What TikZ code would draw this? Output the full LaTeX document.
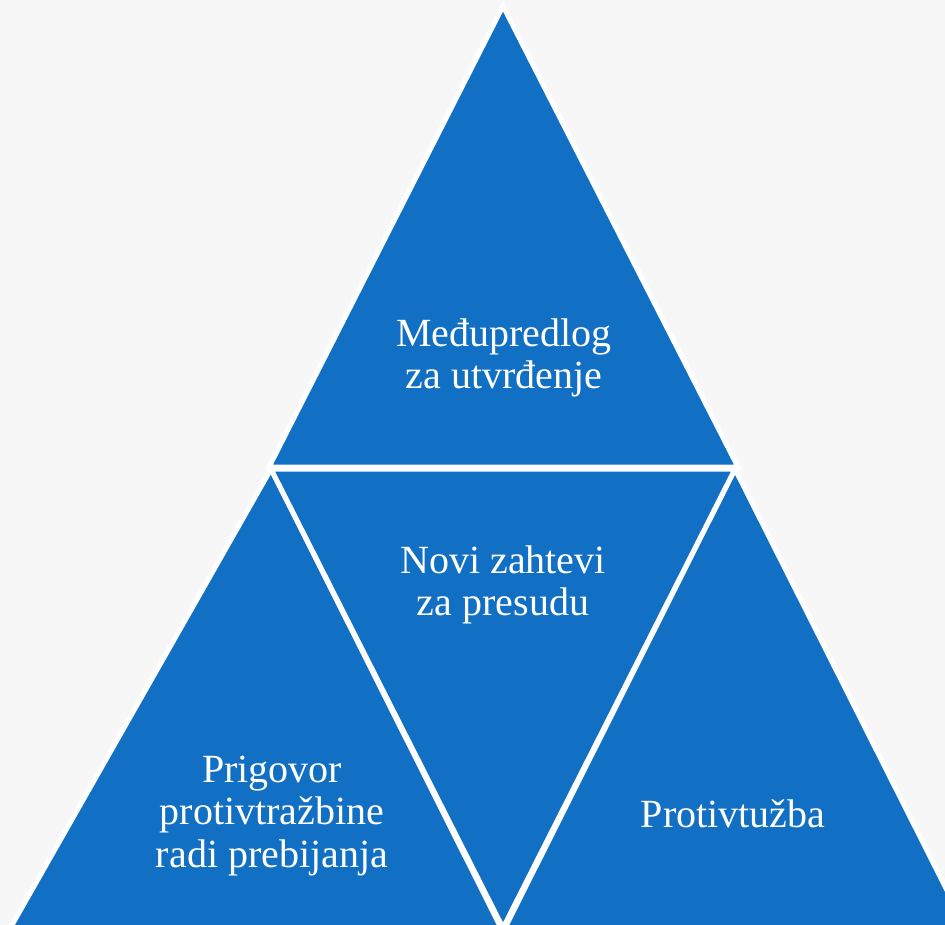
\documentclass[tikz,border=0pt]{standalone}
\usepackage{fontspec}
\setmainfont{Liberation Serif}
\definecolor{triblue}{RGB}{17,111,196}
\definecolor{bggray}{RGB}{247,247,247}
\begin{document}
\begin{tikzpicture}[x=1pt,y=-1pt,
  tri/.style={fill=triblue,draw=white,line width=5pt,line join=miter},
  lbl/.style={text=white,align=center,font=\fontsize{40}{42.5}\selectfont,inner sep=0pt}]
\fill[bggray] (0,0) rectangle (945,925);
\useasboundingbox (0,0) rectangle (945,925);
\begin{scope}
\clip (0,0) rectangle (945,925);
% top triangle
\draw[tri] (503,6) -- (738,467) -- (269,467) -- cycle;
% lower left
\draw[tri] (271,469) -- (503,932) -- (8,932) -- cycle;
% lower right
\draw[tri] (735,469) -- (968,932) -- (503,932) -- cycle;
% middle inverted
\draw[tri] (271,469) -- (735,469) -- (503,928) -- cycle;
\end{scope}
\node[lbl] (top) at (504,358) {Međupredlog\\za utvrđenje};
\node[lbl] (mid) at (503,585) {Novi zahtevi\\za presudu};
\node[lbl] (left) at (272,816) {Prigovor\\protivtražbine\\radi prebijanja};
\node[lbl] (right) at (733,814) {Protivtužba};
\end{tikzpicture}
\end{document}
